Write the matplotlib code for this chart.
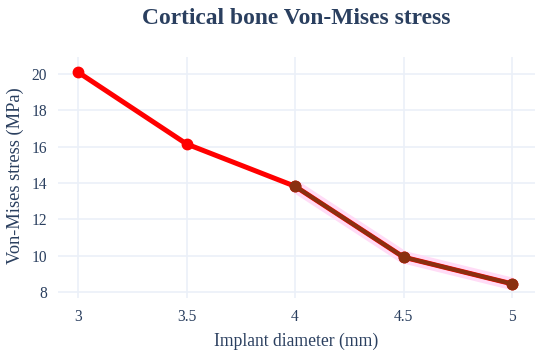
import matplotlib.pyplot as plt

# data
diameters = [3, 3.5, 4, 4.5, 5]
stress = [20.1, 16.15, 13.82, 9.92, 8.45]
x_ticks = [3, 3.5, 4, 4.5, 5]
x_ticklabels = ["3", "3.5", "4", "4.5", "5"]
y_ticks = [8, 10, 12, 14, 16, 18, 20]

text_color = "#2a3f5f"
grid_color = "#ebf0f8"

plt.rcParams["font.family"] = ["Liberation Serif", "DejaVu Serif"]

fig = plt.figure(figsize=(5.5, 3.53), dpi=100)
ax = fig.add_axes([58 / 550, 1 - 298 / 353, (535 - 58) / 550, (298 - 57) / 353])

# faint pink halo around the second half, as in the reference
ax.plot(diameters[2:], stress[2:], color="#ffdcf6", linewidth=9, zorder=2,
        solid_capstyle="butt")
# full series in red, second half overlaid in dark brown
ax.plot(diameters, stress, color="#ff0000", linewidth=3.6, marker="o",
        markersize=7.5, zorder=3)
ax.plot(diameters[2:], stress[2:], color="#8a3010", linewidth=3.0, marker="o",
        markersize=7.5, zorder=4)

ax.set_xlim(2.907, 5.106)
ax.set_ylim(7.67, 20.94)
ax.set_xticks(x_ticks)
ax.set_xticklabels(x_ticklabels)
ax.set_yticks(y_ticks)

ax.grid(True, color=grid_color, linewidth=1.2)
ax.set_axisbelow(True)
for s in ax.spines.values():
    s.set_visible(False)
ax.tick_params(length=0, colors=text_color, labelsize=11.2, pad=8)

fig.text(296 / 550, 1 - 341 / 353, "Implant diameter (mm)", ha="center",
         va="center", color=text_color, fontsize=12.7)
fig.text(15 / 550, 1 - 176 / 353, "Von-Mises stress (MPa)", ha="center",
         va="center", rotation=90, color=text_color, fontsize=13.2)
fig.text(296 / 550, 1 - 18 / 353, "Cortical bone Von-Mises stress", ha="center",
         va="center", fontsize=16.9, fontweight="bold", color=text_color)

fig.savefig("out.png", dpi=100)
